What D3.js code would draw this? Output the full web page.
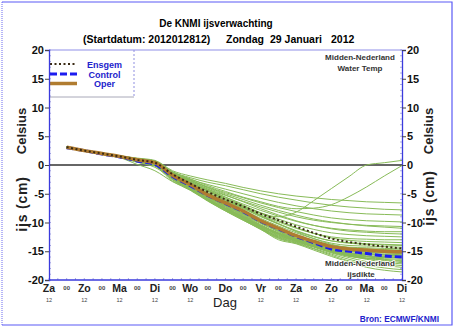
<!DOCTYPE html>
<html>
<head>
<meta charset="utf-8">
<script src="https://d3js.org/d3.v7.min.js"></script>
<style>
  body { margin: 0; background: #fff; }
  svg { display: block; font-family: "Liberation Sans", Arial, sans-serif; }
</style>
</head>
<body>
<svg id="chart"></svg>
<script>
// chart size
const width = 458, height = 328;

// forecast times in days after Za 12 UTC
const days = [0.5, 1, 1.5, 2, 2.5, 3, 3.5, 4, 4.5, 5, 5.5, 6, 6.5, 7, 7.5, 8, 8.5, 9, 9.5, 10];

// ensemble mean, control run and operational run
const ensgem  = [3.1, 2.5, 2.0, 1.5, 0.9, 0.4, -1.6, -3.2, -4.7, -6.0, -7.2, -8.5, -9.6, -10.7, -11.8, -12.8, -13.4, -13.8, -14.2, -14.5];
const control = [3.0, 2.5, 1.9, 1.4, 0.7, 0.1, -2.0, -3.6, -5.3, -6.7, -8.1, -9.8, -11.1, -12.4, -13.5, -14.6, -15.0, -15.4, -15.8, -16.0];
const oper    = [3.1, 2.5, 2.0, 1.5, 0.9, 0.4, -1.8, -3.4, -5.2, -6.6, -8.0, -9.7, -11.0, -12.3, -13.3, -14.2, -14.6, -14.8, -15.0, -15.1];

// ensemble members (green lines)
const members = [
  [3.1, 2.6, 2.0, 1.6, 1.1, 0.7, -1.4, -3.0, -4.4, -5.8, -7.2, -8.4, -9.0, -8.2, -6.2, -4.1, -2.0, 0.0, 0.4, 0.8],
  [3.1, 2.5, 2.0, 1.5, 1.0, 0.6, -1.2, -2.4, -3.6, -4.6, -5.6, -6.4, -7.2, -7.6, -7.5, -6.9, -5.5, -3.8, -1.9, -0.1],
  [3.2, 2.6, 2.1, 1.6, 1.2, 0.8, -1.0, -1.9, -2.6, -3.2, -3.9, -4.5, -5.0, -5.4, -5.7, -6.0, -6.2, -6.4, -6.5, -6.6],
  [3.1, 2.6, 2.1, 1.6, 1.1, 0.7, -1.2, -2.2, -3.0, -3.6, -4.3, -5.0, -5.6, -6.1, -6.6, -7.0, -7.3, -7.5, -7.7, -7.8],
  [3.1, 2.5, 2.0, 1.5, 1.0, 0.6, -1.3, -2.5, -3.4, -4.2, -5.0, -5.8, -6.5, -7.1, -7.6, -8.0, -8.3, -8.5, -8.6, -8.7],
  [3.0, 2.5, 2.0, 1.5, 1.0, 0.5, -1.4, -2.6, -3.8, -4.8, -5.7, -6.6, -7.4, -8.1, -8.7, -9.2, -9.5, -9.7, -9.8, -9.9],
  [3.1, 2.5, 2.0, 1.5, 0.9, 0.5, -1.5, -2.8, -4.2, -5.3, -6.3, -7.3, -8.2, -9.0, -9.6, -10.0, -10.3, -10.5, -10.6, -10.7],
  [3.1, 2.5, 2.0, 1.5, 1.0, 0.5, -1.5, -3.0, -4.4, -5.6, -6.8, -7.9, -8.9, -9.8, -10.5, -11.0, -11.3, -11.5, -11.6, -11.6],
  [3.0, 2.5, 1.9, 1.4, 0.9, 0.4, -1.6, -3.1, -4.6, -5.9, -7.1, -8.3, -9.4, -10.4, -11.2, -11.8, -12.1, -12.3, -12.4, -12.5],
  [3.1, 2.5, 2.0, 1.5, 0.9, 0.4, -1.7, -3.2, -4.8, -6.1, -7.3, -8.7, -9.9, -11.0, -11.9, -12.5, -12.8, -12.9, -13.0, -13.0],
  [3.1, 2.5, 2.0, 1.5, 1.0, 0.5, -1.6, -3.3, -5.0, -6.3, -7.6, -9.0, -10.3, -11.5, -12.5, -13.2, -13.5, -13.7, -13.8, -13.9],
  [3.0, 2.5, 2.0, 1.4, 0.9, 0.4, -1.8, -3.4, -5.1, -6.5, -7.8, -9.3, -10.6, -11.8, -12.8, -13.6, -14.0, -14.1, -14.2, -14.3],
  [3.1, 2.5, 2.0, 1.5, 0.9, 0.4, -1.7, -3.3, -5.0, -6.4, -7.9, -9.5, -10.8, -12.1, -13.1, -13.9, -14.3, -14.4, -14.5, -14.6],
  [3.1, 2.5, 1.9, 1.5, 0.9, 0.3, -1.9, -3.5, -5.3, -6.7, -8.1, -9.7, -11.0, -12.3, -13.3, -14.1, -14.5, -14.6, -14.7, -14.8],
  [3.0, 2.5, 2.0, 1.5, 0.9, 0.4, -1.8, -3.6, -5.4, -6.8, -8.2, -9.8, -11.2, -12.5, -13.5, -14.3, -14.7, -14.8, -14.9, -15.0],
  [3.1, 2.5, 2.0, 1.4, 0.8, 0.3, -2.0, -3.6, -5.5, -7.0, -8.4, -10.0, -11.4, -12.7, -13.7, -14.5, -14.9, -15.0, -15.1, -15.2],
  [3.1, 2.5, 2.0, 1.5, 0.9, 0.3, -1.9, -3.7, -5.6, -7.1, -8.6, -10.2, -11.6, -12.9, -13.9, -14.7, -15.1, -15.2, -15.3, -15.4],
  [3.0, 2.4, 1.9, 1.4, 0.8, 0.2, -2.1, -3.8, -5.7, -7.2, -8.7, -10.4, -11.8, -13.1, -14.1, -14.9, -15.3, -15.4, -15.5, -15.6],
  [3.1, 2.5, 2.0, 1.5, 0.9, 0.3, -2.0, -3.9, -5.9, -7.4, -8.9, -10.6, -11.8, -12.8, -13.8, -14.8, -15.4, -15.6, -15.7, -15.8],
  [3.0, 2.5, 1.9, 1.4, 0.8, 0.2, -2.2, -4.0, -6.0, -7.5, -9.0, -10.6, -11.9, -12.9, -13.9, -14.9, -15.5, -15.8, -15.9, -16.0],
  [3.1, 2.5, 2.0, 1.4, 0.8, 0.2, -2.1, -4.0, -6.0, -7.6, -9.0, -10.7, -12.0, -13.0, -14.0, -15.0, -15.7, -16.0, -16.1, -16.2],
  [3.0, 2.4, 1.9, 1.4, 0.8, 0.1, -2.3, -4.1, -6.0, -7.6, -9.1, -10.7, -12.1, -13.1, -14.1, -15.1, -15.8, -16.2, -16.3, -16.4],
  [3.1, 2.5, 1.9, 1.4, 0.7, 0.1, -2.2, -4.2, -6.1, -7.7, -9.2, -10.8, -12.2, -13.2, -14.2, -15.2, -15.9, -16.3, -16.5, -16.6],
  [3.0, 2.5, 1.9, 1.4, 0.7, 0.0, -2.4, -4.2, -6.0, -7.7, -9.3, -10.9, -12.3, -13.1, -13.9, -14.7, -15.4, -15.9, -16.4, -16.8],
  [3.1, 2.5, 1.9, 1.3, 0.7, 0.0, -2.3, -4.3, -6.1, -7.7, -9.3, -11.0, -12.4, -13.2, -14.1, -14.9, -15.6, -16.2, -16.6, -17.0],
  [3.0, 2.4, 1.9, 1.3, 0.6, -0.1, -2.5, -4.3, -6.1, -7.8, -9.4, -11.0, -12.5, -13.3, -14.2, -15.1, -15.8, -16.4, -16.9, -17.2],
  [3.0, 2.4, 1.8, 1.3, 0.6, -0.1, -2.6, -4.3, -6.2, -7.8, -9.4, -11.1, -12.6, -13.4, -14.3, -15.3, -16.1, -16.8, -17.2, -17.5],
  [3.0, 2.4, 1.9, 1.3, 0.5, -0.2, -2.8, -4.2, -6.2, -7.9, -9.5, -11.1, -12.7, -13.5, -14.5, -15.5, -16.4, -17.1, -17.5, -17.8],
  [3.0, 2.5, 1.9, 1.4, 0.5, -0.4, -2.4, -4.1, -6.2, -8.0, -9.6, -11.2, -12.8, -13.6, -14.6, -15.7, -16.7, -17.4, -17.9, -18.2],
  [3.0, 2.4, 1.9, 1.3, 0.1, -1.0, -2.9, -4.4, -6.3, -8.0, -9.6, -11.2, -13.0, -13.7, -14.8, -15.9, -16.9, -17.8, -18.3, -18.6],
  [3.1, 2.5, 2.0, 1.5, 1.0, 0.5, -1.5, -3.0, -4.5, -6.0, -7.4, -8.8, -10.2, -11.6, -12.8, -13.8, -14.4, -14.7, -14.8, -14.9],
  [3.1, 2.6, 2.0, 1.6, 1.0, 0.6, -1.3, -2.8, -4.2, -5.6, -7.0, -8.4, -9.7, -10.9, -11.9, -12.7, -13.1, -13.3, -13.4, -13.5],
  [3.1, 2.5, 2.1, 1.6, 1.1, 0.6, -1.2, -2.6, -4.0, -5.2, -6.4, -7.6, -8.7, -9.7, -10.5, -11.1, -11.5, -11.7, -11.9, -12.0],
  [3.2, 2.6, 2.1, 1.6, 1.1, 0.7, -1.4, -2.7, -3.9, -5.0, -6.0, -7.0, -7.9, -8.7, -9.4, -9.9, -10.3, -10.6, -10.8, -11.0],
  [3.0, 2.5, 2.0, 1.5, 0.9, 0.3, -2.0, -3.7, -5.6, -7.0, -8.5, -10.1, -11.5, -12.8, -13.8, -14.6, -15.0, -15.1, -15.2, -15.3],
  [3.1, 2.5, 1.9, 1.4, 0.8, 0.2, -2.1, -3.9, -5.9, -7.6, -9.1, -10.7, -12.0, -13.0, -14.0, -14.9, -15.6, -15.9, -16.0, -16.1],
  [3.0, 2.5, 2.0, 1.4, 0.9, 0.3, -1.9, -3.8, -5.8, -7.3, -8.8, -10.5, -11.9, -13.2, -14.2, -15.0, -15.4, -15.5, -15.6, -15.7],
  [3.1, 2.5, 2.0, 1.5, 1.0, 0.5, -1.6, -3.2, -4.9, -6.2, -7.5, -8.9, -10.2, -11.4, -12.4, -13.2, -13.6, -13.8, -13.9, -14.0]
];

// axis labels
const dayNames = ["Za", "Zo", "Ma", "Di", "Wo", "Do", "Vr", "Za", "Zo", "Ma", "Di"];
const yTicks = [-20, -15, -10, -5, 0, 5, 10, 15, 20];
const legendNames = ["Ensgem", "Control", "Oper"];

const svg = d3.select("#chart")
    .attr("width", width)
    .attr("height", height);

// plot area
const pLeft = 49, pRight = 402, pTop = 50, pBottom = 280;
const x = d3.scaleLinear().domain([0, 10]).range([pLeft, pRight]);
const y = d3.scaleLinear().domain([-20, 20]).range([pBottom, pTop]);

// outer frame
svg.append("line").attr("x1", 2).attr("x2", 2).attr("y1", 2).attr("y2", 325)
    .attr("stroke", "#6a6af0").attr("stroke-dasharray", "1,1");
svg.append("path").attr("d", "M2,2H452V325H2")
    .attr("fill", "none").attr("stroke", "#5a5af5").attr("stroke-width", 1.2);

// title
svg.append("text").attr("x", 216).attr("y", 27).attr("text-anchor", "middle")
    .style("font-size", "10px").style("font-weight", "bold").text("De KNMI ijsverwachting");
const sub = [["(Startdatum: 2012012812)", 83], ["Zondag", 226], ["29 Januari", 270], ["2012", 331]];
svg.append("g").selectAll("text").data(sub).join("text")
    .attr("x", d => d[1]).attr("y", 43)
    .style("font-size", "10.5px").style("font-weight", "bold")
    .text(d => d[0]);

// plot border top
svg.append("line").attr("x1", pLeft).attr("x2", pRight).attr("y1", pTop).attr("y2", pTop)
    .attr("stroke", "#8f8fe8");

// minor ticks
const g = svg.append("g");
g.selectAll(".myl").data(d3.range(-20, 21)).join("line")
    .attr("x1", pLeft).attr("x2", pLeft + 2).attr("y1", d => y(d)).attr("y2", d => y(d))
    .attr("stroke", "#9a9ad8").attr("stroke-width", 0.8);
g.selectAll(".myr").data(d3.range(-20, 21)).join("line")
    .attr("x1", pRight - 2).attr("x2", pRight).attr("y1", d => y(d)).attr("y2", d => y(d))
    .attr("stroke", "#9a9ad8").attr("stroke-width", 0.8);
g.selectAll(".mx").data(d3.range(0, 10.01, 0.25)).join("line")
    .attr("x1", d => x(d)).attr("x2", d => x(d)).attr("y1", pBottom).attr("y2", pBottom - 2)
    .attr("stroke", "#9a9ad8").attr("stroke-width", 0.8);

// legend box
svg.append("line").attr("x1", pLeft).attr("x2", 134).attr("y1", 97).attr("y2", 97)
    .attr("stroke", "#a8a8b8");
svg.append("line").attr("x1", 134).attr("x2", 134).attr("y1", pTop).attr("y2", 97)
    .attr("stroke", "#8f8fe0").attr("stroke-dasharray", "2,2");

// zero line
svg.append("line").attr("x1", pLeft).attr("x2", pRight).attr("y1", y(0)).attr("y2", y(0))
    .attr("stroke", "#333").attr("stroke-width", 1.5);

// lines
const line = d3.line()
    .x((d, i) => x(days[i]))
    .y(d => y(d))
    .curve(d3.curveMonotoneX);

svg.append("g").selectAll("path").data(members).join("path")
    .attr("d", line)
    .attr("fill", "none")
    .attr("stroke", "#88bb58")
    .attr("stroke-width", 1);

svg.append("path").datum(control).attr("d", line)
    .attr("fill", "none").attr("stroke", "#1c1cf0")
    .attr("stroke-width", 3).attr("stroke-dasharray", "7,3");

svg.append("path").datum(oper).attr("d", line)
    .attr("fill", "none").attr("stroke", "#b07c30")
    .attr("stroke-width", 3.5);

svg.append("path").datum(ensgem).attr("d", line)
    .attr("fill", "none").attr("stroke", "#3a2a14")
    .attr("stroke-width", 2).attr("stroke-dasharray", "2,2.5");

// legend
const legY = [64, 74, 83.5];
const leg = svg.append("g");
leg.append("line").attr("x1", 50).attr("x2", 77).attr("y1", legY[0]).attr("y2", legY[0])
    .attr("stroke", "#3a2a14").attr("stroke-width", 2).attr("stroke-dasharray", "2,2.5");
leg.append("line").attr("x1", 50).attr("x2", 77).attr("y1", legY[1]).attr("y2", legY[1])
    .attr("stroke", "#1c1cf0").attr("stroke-width", 3).attr("stroke-dasharray", "7,3");
leg.append("line").attr("x1", 50).attr("x2", 77).attr("y1", legY[2]).attr("y2", legY[2])
    .attr("stroke", "#b07c30").attr("stroke-width", 3.5);
leg.selectAll("text").data(legendNames).join("text")
    .attr("x", 104.5).attr("y", (d, i) => legY[i] + 3.5)
    .attr("text-anchor", "middle")
    .style("font-size", "9px").style("font-weight", "bold").style("fill", "#2222cc")
    .text(d => d);

// location texts
const loc = svg.append("g").attr("text-anchor", "middle")
    .style("font-size", "8px").style("font-weight", "bold").style("fill", "#333");
loc.append("text").attr("x", 360).attr("y", 60).text("Midden-Nederland");
loc.append("text").attr("x", 360).attr("y", 71).text("Water Temp");
loc.append("text").attr("x", 360).attr("y", 266).text("Midden-Nederland")
    .attr("stroke", "#fff").attr("stroke-width", 1.5).attr("paint-order", "stroke");
loc.append("text").attr("x", 361).attr("y", 277).text("ijsdikte")
    .attr("stroke", "#fff").attr("stroke-width", 1.5).attr("paint-order", "stroke");

// y axes
const yl = svg.append("g").attr("transform", `translate(${pLeft},0)`)
    .call(d3.axisLeft(y).tickValues(yTicks).tickSize(4).tickFormat(d => String(d)));
const yr = svg.append("g").attr("transform", `translate(${pRight},0)`)
    .call(d3.axisRight(y).tickValues(yTicks).tickSize(4).tickFormat(d => String(d)));
[yl, yr].forEach(a => {
    a.select(".domain").attr("stroke", "#3b3bdd").attr("stroke-width", 1.3);
    a.selectAll(".tick line").attr("stroke", "#444");
    a.selectAll(".tick text").attr("fill", "#111")
        .style("font-size", "11px").style("font-weight", "bold")
        .style("font-family", "'Liberation Sans', Arial, sans-serif");
});
yl.selectAll(".tick text").attr("x", -5);
yr.selectAll(".tick text").attr("x", 5);

// x axis
svg.append("line").attr("x1", pLeft).attr("x2", pRight).attr("y1", pBottom).attr("y2", pBottom)
    .attr("stroke", "#3b3bdd").attr("stroke-width", 1.5);
const xa = svg.append("g").attr("text-anchor", "middle");
xa.selectAll(".day").data(dayNames).join("text")
    .attr("x", (d, i) => x(i)).attr("y", 292)
    .style("font-size", "10.5px").style("font-weight", "bold").style("fill", "#222")
    .text(d => d);
xa.selectAll(".half").data(d3.range(10)).join("text")
    .attr("x", d => x(d + 0.5)).attr("y", 290)
    .style("font-size", "6px").style("font-weight", "bold").style("fill", "#444")
    .text("00");
xa.selectAll(".hr").data(d3.range(11).filter(i => i !== 5)).join("text")
    .attr("x", d => x(d)).attr("y", 302)
    .style("font-size", "5.5px").style("fill", "#444")
    .text("12");
svg.append("text").attr("x", 225).attr("y", 307).attr("text-anchor", "middle")
    .style("font-size", "13px").style("fill", "#222").text("Dag");

// axis titles
const titles = [["Celsius", 26, 131, 13], ["ijs (cm)", 27, 204, 14], ["Celsius", 433, 131, 13], ["ijs (cm)", 434, 198, 14]];
svg.append("g").selectAll("text").data(titles).join("text")
    .attr("transform", d => `translate(${d[1]},${d[2]}) rotate(-90)`)
    .attr("text-anchor", "middle")
    .style("font-size", d => d[3] + "px").style("font-weight", "bold").style("fill", "#222")
    .style("letter-spacing", d => d[0] === "Celsius" ? "0px" : "0.8px")
    .text(d => d[0]);

// source
svg.append("text").attr("x", 439).attr("y", 322).attr("text-anchor", "end")
    .style("font-size", "8.3px").style("font-weight", "bold").style("fill", "#2222cc")
    .text("Bron: ECMWF/KNMI");
</script>
</body>
</html>
